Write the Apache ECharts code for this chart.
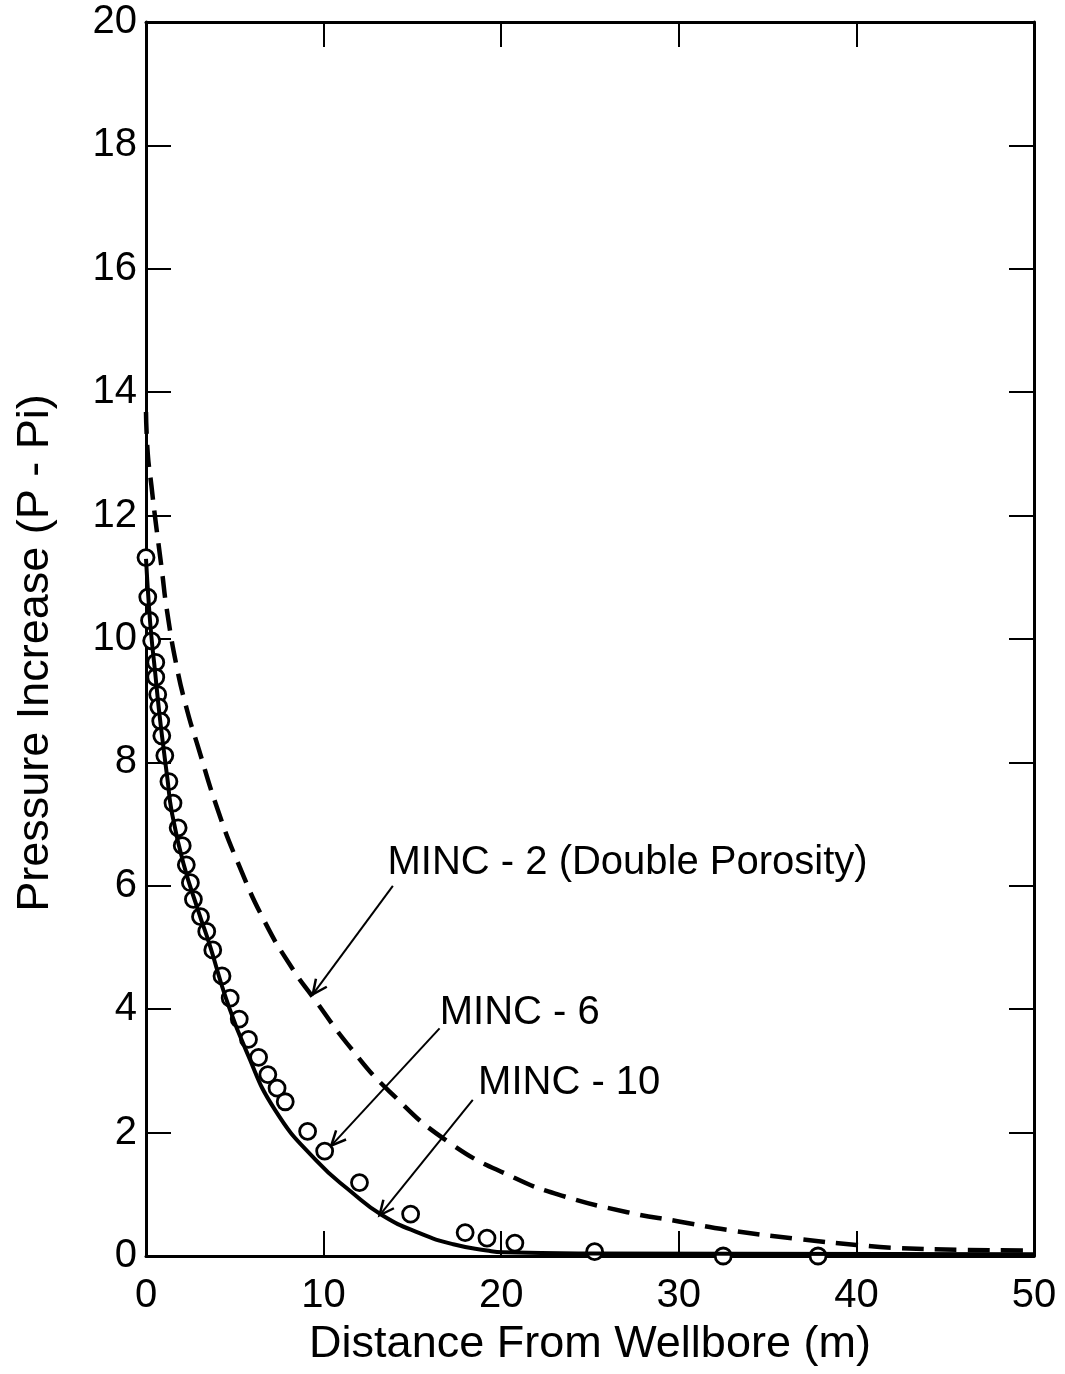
<!DOCTYPE html>
<html>
<head>
<meta charset="utf-8">
<script src="https://cdn.jsdelivr.net/npm/echarts@6/dist/echarts.min.js"></script>
<style>
  html, body { margin: 0; padding: 0; background: #fff; }
  #main { width: 1065px; height: 1374px; }
</style>
</head>
<body>
<div id="main"></div>
<script>
// MINC - 2 (double porosity), dashed curve
var minc2X = [0, 0.1, 0.3, 0.5, 0.7, 0.9, 1.16, 1.73, 2.31, 2.88, 4.03, 5.18, 6.7, 8.24, 9.39, 11.5, 13.7, 17.07, 20.8, 23.4, 27.1, 30, 32.8, 36.6, 40, 42.3, 46, 50];
var minc2Y = [13.68, 13.0, 12.5, 12.0, 11.55, 11.1, 10.5, 9.55, 8.85, 8.3, 7.24, 6.37, 5.41, 4.66, 4.2, 3.38, 2.67, 1.84, 1.26, 0.98, 0.71, 0.56, 0.42, 0.28, 0.18, 0.13, 0.1, 0.09];

// MINC - 10, solid curve
var minc10X = [0, 0.15, 0.3, 0.5, 0.75, 1.0, 1.2, 1.45, 2.1, 2.97, 3.59, 4.5, 5.65, 7.28, 9.58, 11.6, 13.3, 15.4, 17.3, 19.2, 20.1, 25, 50];
var minc10Y = [11.3, 10.6, 10.05, 9.5, 8.8, 8.2, 7.75, 7.2, 6.37, 5.57, 5.04, 4.18, 3.32, 2.36, 1.55, 1.03, 0.66, 0.37, 0.19, 0.09, 0.06, 0.04, 0.03];

// MINC - 6, open circles
var minc6X = [0, 0.1, 0.2, 0.32, 0.55, 0.55, 0.66, 0.72, 0.83, 0.89, 1.06, 1.29, 1.52, 1.81, 2.04, 2.27, 2.5, 2.67, 3.07, 3.42, 3.76, 4.28, 4.74, 5.25, 5.77, 6.34, 6.86, 7.38, 7.84, 9.1, 10.06, 12.02, 14.9, 17.97, 19.2, 20.77, 25.26, 32.5, 37.84];
var minc6Y = [11.32, 10.68, 10.3, 9.97, 9.62, 9.38, 9.1, 8.9, 8.67, 8.43, 8.11, 7.69, 7.34, 6.94, 6.65, 6.34, 6.05, 5.78, 5.5, 5.26, 4.96, 4.54, 4.18, 3.84, 3.51, 3.22, 2.94, 2.72, 2.5, 2.02, 1.70, 1.19, 0.68, 0.38, 0.29, 0.21, 0.07, 0, 0];

// annotations (data coords): text anchor, arrow tail, arrow tip
var noteText = ['MINC - 2 (Double Porosity)', 'MINC - 6', 'MINC - 10'];
var noteX = [13.6, 16.54, 18.7];
var noteY = [6.37, 3.94, 2.8];
var arrowFrom = [[13.9, 6.0], [16.53, 3.69], [18.4, 2.53]];
var arrowTo = [[9.39, 4.24], [10.43, 1.79], [13.15, 0.66]];

var FONT = 'Liberation Sans, Arial, Helvetica, sans-serif';

function zip(xs, ys) {
    var out = [];
    for (var i = 0; i < xs.length; i++) out.push([xs[i], ys[i]]);
    return out;
}

var frameLine = { show: true, onZero: false, lineStyle: { color: '#000', width: 3 } };
var tickIn = { show: true, inside: true, length: 25, lineStyle: { color: '#000', width: 2 } };

var chart = echarts.init(document.getElementById('main'));
chart.setOption({
    animation: false,
    backgroundColor: '#fff',
    grid: { left: 146, right: 31, top: 22, bottom: 118 },
    xAxis: [
        {
            type: 'value', min: 0, max: 50, interval: 10, position: 'bottom',
            axisLine: frameLine, axisTick: tickIn, splitLine: { show: false },
            axisLabel: { color: '#000', fontSize: 40, fontFamily: FONT, margin: 20 },
            name: 'Distance From Wellbore (m)', nameLocation: 'middle', nameGap: 66,
            nameTextStyle: { color: '#000', fontSize: 45, fontFamily: FONT }
        },
        {
            type: 'value', min: 0, max: 50, interval: 10, position: 'top',
            axisLine: frameLine, axisTick: tickIn, splitLine: { show: false },
            axisLabel: { show: false }
        }
    ],
    yAxis: [
        {
            type: 'value', min: 0, max: 20, interval: 2, position: 'left',
            axisLine: frameLine, axisTick: tickIn, splitLine: { show: false },
            axisLabel: { color: '#000', fontSize: 40, fontFamily: FONT, margin: 9 },
            name: 'Pressure Increase (P - Pi)', nameLocation: 'middle', nameGap: 88,
            nameTextStyle: { color: '#000', fontSize: 45, fontFamily: FONT, padding: [0, 28, 0, 0] }
        },
        {
            type: 'value', min: 0, max: 20, interval: 2, position: 'right',
            axisLine: frameLine, axisTick: tickIn, splitLine: { show: false },
            axisLabel: { show: false }
        }
    ],
    series: [
        {
            name: 'MINC - 2', type: 'line', data: zip(minc2X, minc2Y),
            showSymbol: false, smooth: 0.5, clip: false,
            lineStyle: { color: '#000', width: 4.5, type: [22, 11] }
        },
        {
            name: 'MINC - 10', type: 'line', data: zip(minc10X, minc10Y),
            showSymbol: false, smooth: 0.5, clip: false,
            lineStyle: { color: '#000', width: 4 }
        },
        {
            name: 'MINC - 6', type: 'scatter', data: zip(minc6X, minc6Y),
            symbol: 'circle', symbolSize: 16, clip: false,
            itemStyle: { color: '#fff', borderColor: '#000', borderWidth: 2.8, opacity: 1 }
        }
    ]
});

// labels and arrows, placed from data coordinates
var elements = [];
for (var i = 0; i < noteText.length; i++) {
    var p = chart.convertToPixel({ gridIndex: 0 }, [noteX[i], noteY[i]]);
    elements.push({
        type: 'text', x: p[0], y: p[1],
        style: { text: noteText[i], fill: '#000', font: '40px ' + FONT, textAlign: 'left', textVerticalAlign: 'middle' }
    });
    var a = chart.convertToPixel({ gridIndex: 0 }, arrowFrom[i]);
    var b = chart.convertToPixel({ gridIndex: 0 }, arrowTo[i]);
    var dx = b[0] - a[0], dy = b[1] - a[1];
    var len = Math.sqrt(dx * dx + dy * dy);
    var ux = dx / len, uy = dy / len;
    var L = 16, th = 25 * Math.PI / 180;
    var c = Math.cos(th), s = Math.sin(th);
    var b1 = [b[0] - L * (ux * c - uy * s), b[1] - L * (uy * c + ux * s)];
    var b2 = [b[0] - L * (ux * c + uy * s), b[1] - L * (uy * c - ux * s)];
    elements.push({
        type: 'polyline', shape: { points: [a, b] },
        style: { stroke: '#000', lineWidth: 2, fill: null }
    });
    elements.push({
        type: 'polyline', shape: { points: [b1, b, b2] },
        style: { stroke: '#000', lineWidth: 2.5, fill: null }
    });
}
chart.setOption({ graphic: elements });
</script>
</body>
</html>
